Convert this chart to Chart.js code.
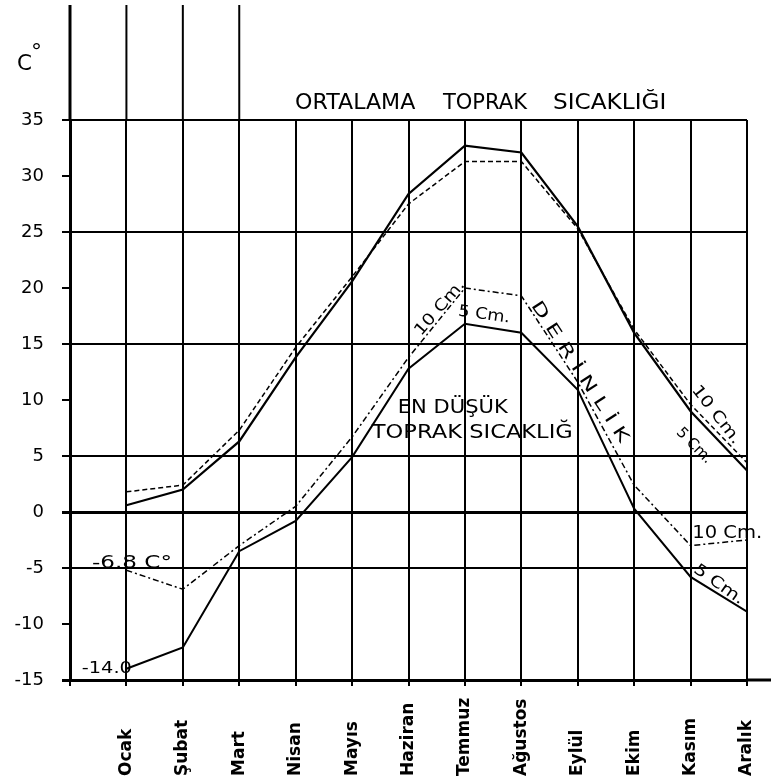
<!DOCTYPE html>
<html>
<head>
<meta charset="utf-8">
<script src="https://cdn.jsdelivr.net/npm/chart.js@4.4.0/dist/chart.umd.min.js"></script>
<style>
  html, body { margin: 0; padding: 0; background: #fff; }
  canvas { display: block; }
</style>
</head>
<body>
<canvas id="c" width="771" height="784"></canvas>
<script>
// ---- data ----
const months = ['Ocak', 'Şubat', 'Mart', 'Nisan', 'Mayıs', 'Haziran', 'Temmuz', 'Ağustos', 'Eylül', 'Ekim', 'Kasım', 'Aralık'];
// Ortalama toprak sıcaklığı (average soil temperature)
const avg5cm  = [0.6, 2.0, 6.3, 13.8, 20.6, 28.4, 32.7, 32.1, 25.5, 16.0, 9.0, 3.7];
const avg10cm = [1.8, 2.4, 7.3, 14.7, 21.0, 27.5, 31.3, 31.3, 25.3, 16.3, 9.6, 4.4];
// En düşük toprak sıcaklığı (minimum soil temperature)
const min5cm  = [-14.0, -12.1, -3.5, -0.8, 4.9, 12.8, 16.8, 16.0, 10.9, 0.3, -5.8, -8.9];
const min10cm = [-5.2, -6.9, -3.0, 0.5, 6.7, 13.8, 20.0, 19.3, 11.6, 2.4, -3.0, -2.5];
const yTickValues = [-15, -10, -5, 0, 5, 10, 15, 20, 25, 30, 35];
const yGridValues = [35, 25, 15, 5, 0, -5, -15];

const FONT = '"DejaVu Sans", "Noto Sans", sans-serif';
const toPts = arr => arr.map((v, i) => ({ x: i, y: v }));

function fitText(ctx, txt, x, y, w, size, angle, align, baseline, weight) {
  ctx.save();
  ctx.translate(x, y);
  ctx.rotate((angle || 0) * Math.PI / 180);
  ctx.font = (weight || 'normal') + ' ' + size + 'px ' + FONT;
  const m = ctx.measureText(txt).width;
  if (w) ctx.scale(w / m, 1);
  ctx.textAlign = align || 'left';
  ctx.textBaseline = baseline || 'alphabetic';
  ctx.fillStyle = '#000';
  ctx.fillText(txt, 0, 0);
  ctx.restore();
}

// text notes placed in data space: [text, xValue, yValue, width, size, angle, align, baseline]
const notes = [
  ['-6.8 C°', -0.61, -5.0, 80, 18, 0, 'left', 'alphabetic'],
  ['-14.0', -0.79, -14.4, 50, 16, 0, 'left', 'alphabetic'],
  ['EN DÜŞÜK', 4.81, 8.84, 110, 20, 0, 'left', 'alphabetic'],
  ['TOPRAK SICAKLIĞ', 4.35, 6.6, 201, 20, 0, 'left', 'alphabetic'],
  ['D E R İ N L İ K', 8.03, 12.5, 165, 17, 57, 'center', 'middle'],
  ['10 Cm.', 5.56, 18.2, 68, 16, -49, 'center', 'middle'],
  ['5 Cm.', 6.34, 17.6, 52, 16, 8, 'center', 'middle'],
  ['10 Cm.', 10.45, 8.66, 70, 16, 52, 'center', 'middle'],
  ['5 Cm.', 10.06, 5.9, 44, 15, 45, 'center', 'middle'],
  ['10 Cm.', 10.03, -2.3, 70, 18, 0, 'left', 'alphabetic'],
  ['5 Cm.', 10.5, -6.5, 58, 16, 35, 'center', 'middle']
];
// title words: [text, xStart, xEnd]
const titleWords = [['ORTALAMA', 2.99, 5.12], ['TOPRAK', 5.61, 7.10], ['SICAKLIĞI', 7.56, 9.57]];

const decor = {
  id: 'decor',
  afterDraw(chart) {
    const ctx = chart.ctx;
    const xs = chart.scales.x, ys = chart.scales.y;
    const ca = chart.chartArea;
    ctx.save();
    ctx.strokeStyle = '#000';
    // upward extensions of the first vertical lines
    [-1, 0, 1, 2].forEach(i => {
      const px = xs.getPixelForValue(i);
      ctx.lineWidth = i === -1 ? 3 : 2;
      ctx.beginPath();
      ctx.moveTo(px, ca.top);
      ctx.lineTo(px, 5);
      ctx.stroke();
    });
    // bottom line extends to the right edge
    ctx.lineWidth = 3;
    ctx.beginPath();
    const yb = ys.getPixelForValue(-15);
    ctx.moveTo(ca.right, yb);
    ctx.lineTo(chart.width, yb);
    ctx.stroke();
    ctx.restore();

    // axis unit
    fitText(ctx, 'C', 17, 70, 15, 22, 0, 'left');
    fitText(ctx, '°', 31, 58, 11, 19, 0, 'left');

    // title
    titleWords.forEach(([t, a, b]) => {
      const x0 = xs.getPixelForValue(a), x1 = xs.getPixelForValue(b);
      fitText(ctx, t, x0, ca.top - 11, x1 - x0, 22, 0, 'left');
    });

    // month labels, rotated, starting at the bottom
    months.forEach((m, i) => {
      fitText(ctx, m, xs.getPixelForValue(i), chart.height - 8, null, 17, -90, 'left', 'middle', 'bold');
    });

    // notes
    notes.forEach(([t, xv, yv, w, size, ang, al, bl]) => {
      fitText(ctx, t, xs.getPixelForValue(xv), ys.getPixelForValue(yv), w, size, ang, al, bl);
    });
  }
};

new Chart(document.getElementById('c'), {
  type: 'line',
  data: {
    datasets: [
      { label: 'Ortalama 5 cm', data: toPts(avg5cm), borderColor: '#000', borderWidth: 2.2, pointRadius: 0, tension: 0 },
      { label: 'Ortalama 10 cm', data: toPts(avg10cm), borderColor: '#000', borderWidth: 1.5, borderDash: [5, 3], pointRadius: 0, tension: 0 },
      { label: 'En düşük 5 cm', data: toPts(min5cm), borderColor: '#000', borderWidth: 2, pointRadius: 0, tension: 0 },
      { label: 'En düşük 10 cm', data: toPts(min10cm), borderColor: '#000', borderWidth: 1.5, borderDash: [6, 3, 2, 3], pointRadius: 0, tension: 0 }
    ]
  },
  options: {
    responsive: false,
    animation: false,
    devicePixelRatio: 1,
    layout: { padding: { top: 120, right: 24, bottom: 96, left: 0 } },
    plugins: { legend: { display: false }, tooltip: { enabled: false }, title: { display: false } },
    scales: {
      x: {
        type: 'linear',
        min: -1,
        max: 11,
        afterBuildTicks: s => { s.ticks = []; for (let i = -1; i <= 11; i++) s.ticks.push({ value: i }); },
        afterFit: s => { s.height = 8; },
        ticks: { display: false },
        grid: { color: '#000', lineWidth: 2, tickLength: 6, drawTicks: true },
        border: { display: true, color: '#000', width: 3 }
      },
      y: {
        min: -15,
        max: 35,
        afterBuildTicks: s => { s.ticks = yTickValues.map(v => ({ value: v })); },
        afterFit: s => { s.width = 70; },
        ticks: { color: '#000', font: { family: FONT, size: 18 }, padding: 18 },
        grid: {
          color: c => (c.tick && yGridValues.includes(c.tick.value)) ? '#000' : 'rgba(0,0,0,0)',
          lineWidth: c => (c.tick && (c.tick.value === 0 || c.tick.value === -15)) ? 3 : 2,
          tickColor: '#000',
          tickLength: 8
        },
        border: { display: true, color: '#000', width: 3 }
      }
    }
  },
  plugins: [decor]
});
</script>
</body>
</html>
